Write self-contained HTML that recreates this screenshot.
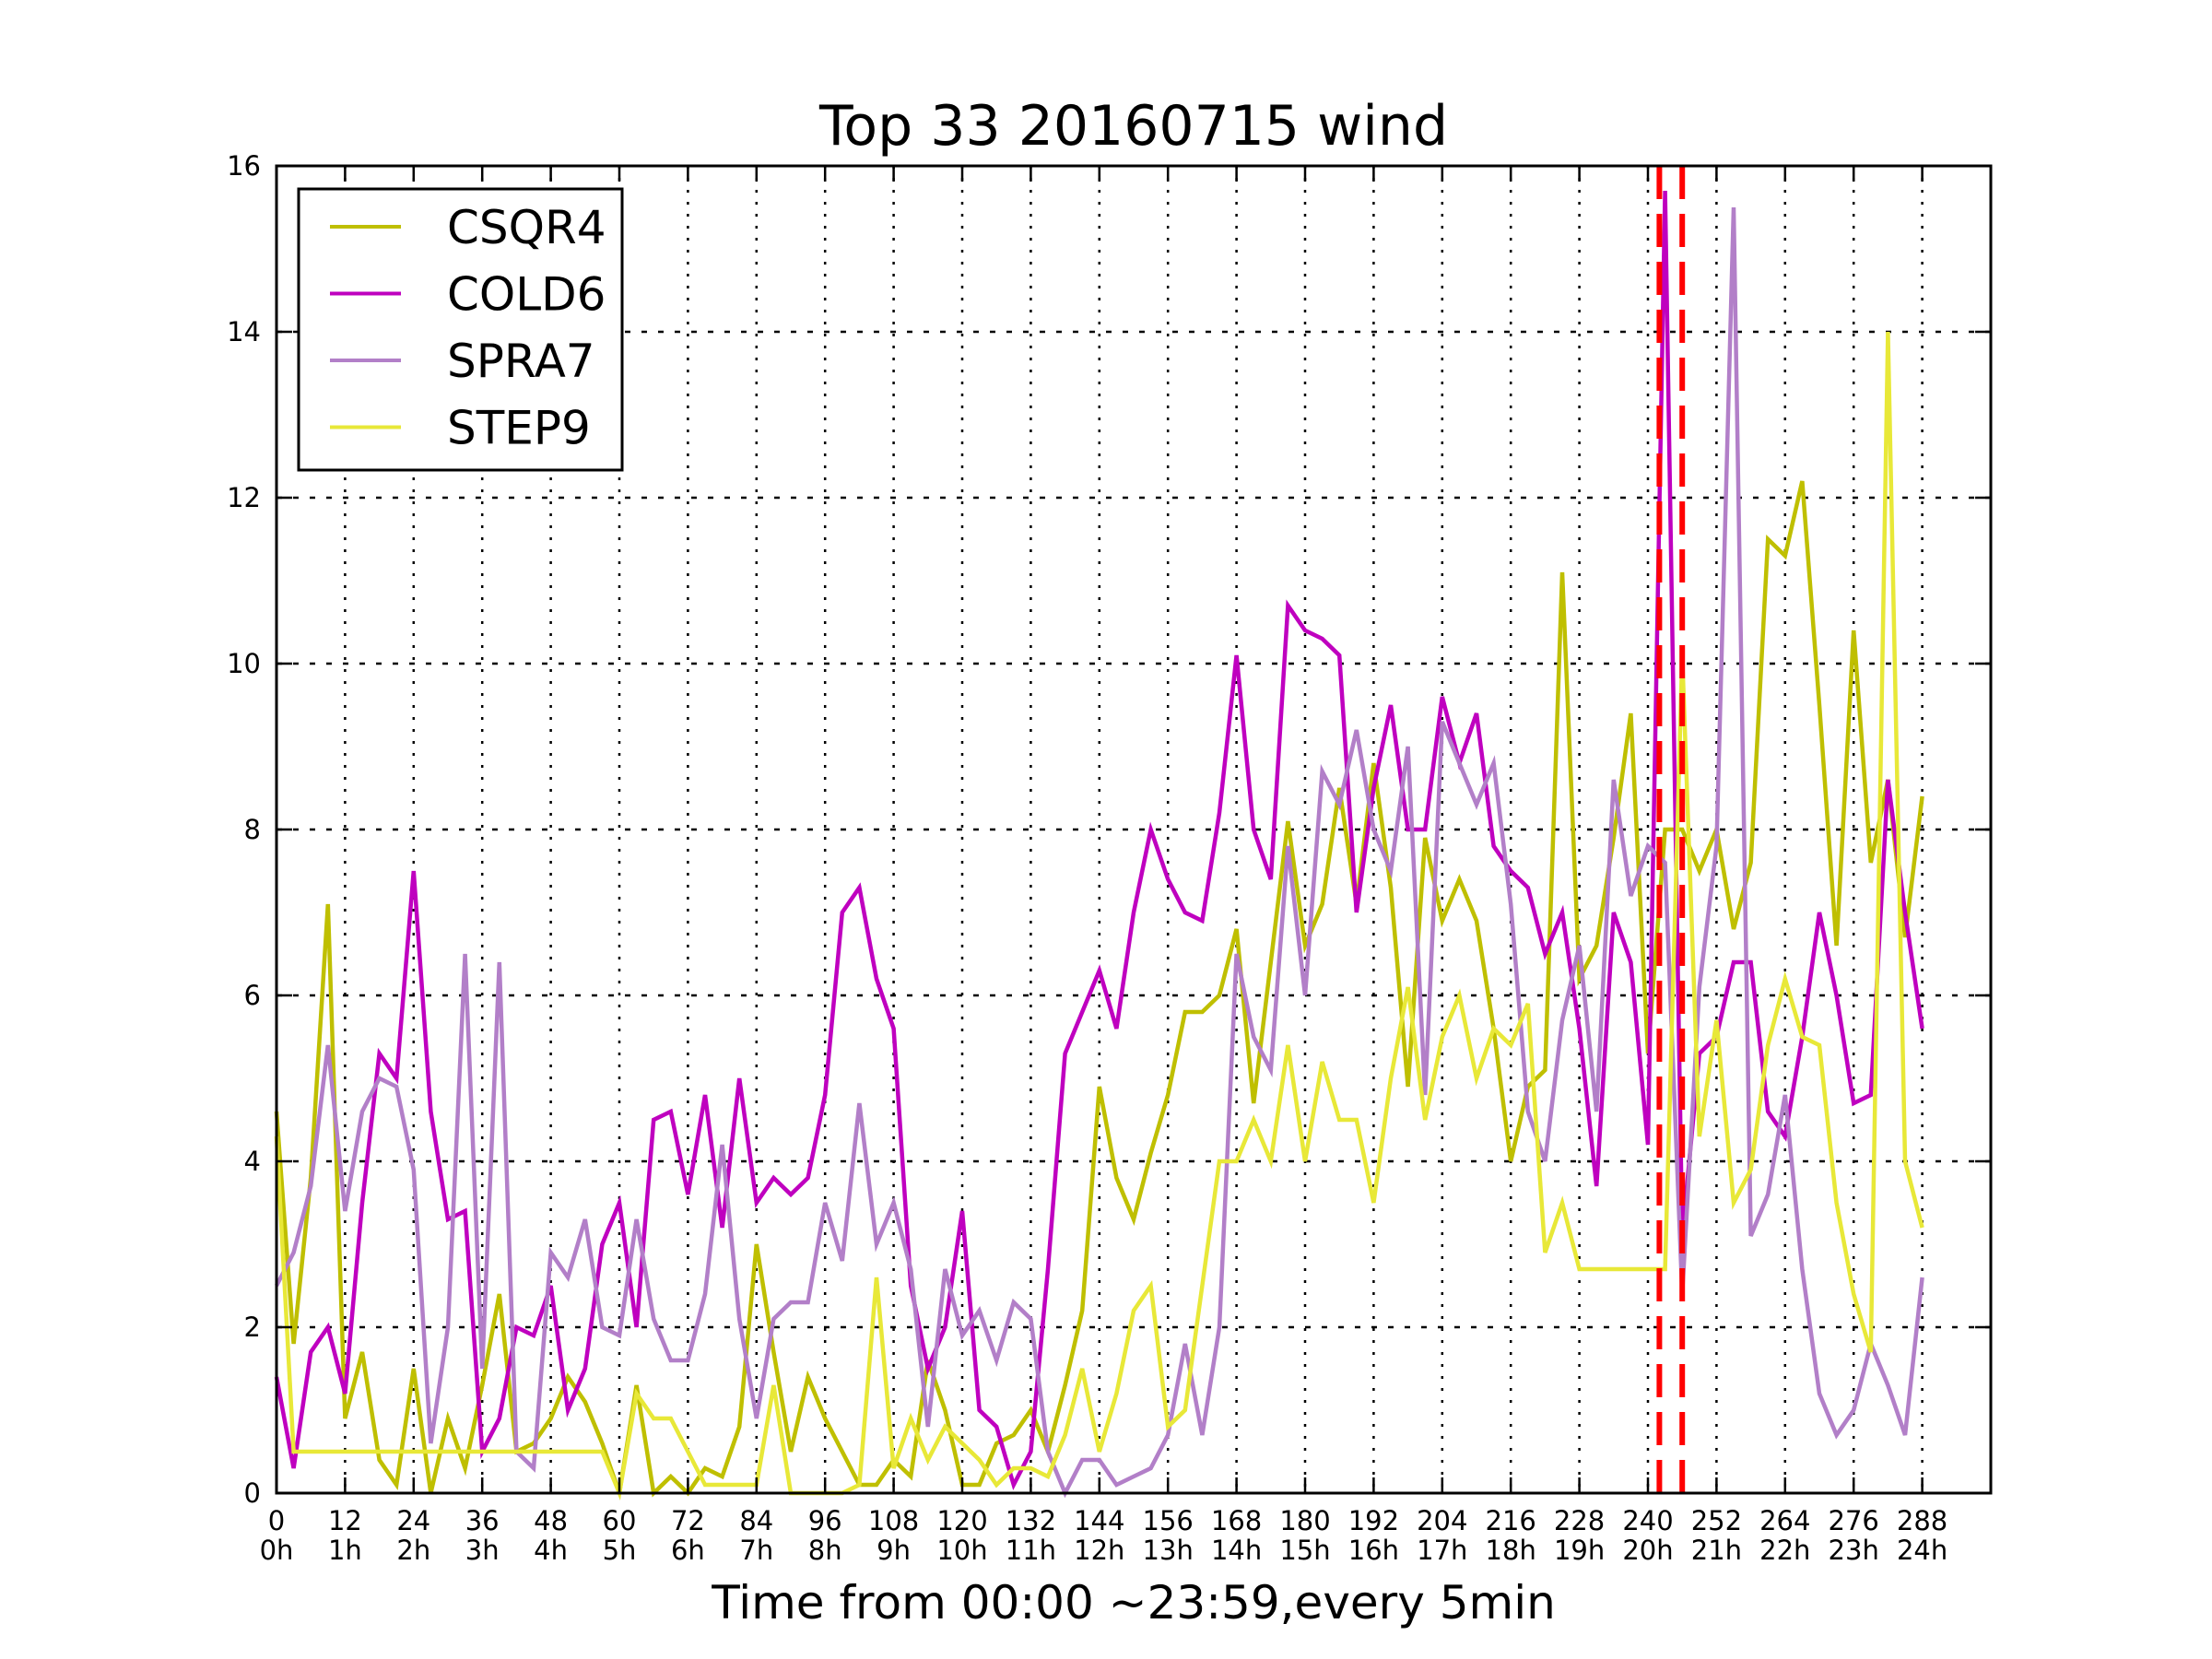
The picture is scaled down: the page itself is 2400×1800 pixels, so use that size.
<!DOCTYPE html>
<html>
<head>
<meta charset="utf-8">
<style>
html,body{margin:0;padding:0;background:#fff;}
svg{display:block;font-family:"DejaVu Sans","Liberation Sans",sans-serif;}
</style>
</head>
<body>
<svg id="chart" width="2400" height="1800" viewBox="0 0 2400 1800" xmlns="http://www.w3.org/2000/svg">
  <rect x="0" y="0" width="2400" height="1800" fill="#ffffff"/>
  <text x="1230" y="157" font-size="60" text-anchor="middle" fill="#000">Top 33 20160715 wind</text>
  <text x="1230" y="1756" font-size="50" text-anchor="middle" fill="#000">Time from 00:00 ~23:59,every 5min</text>
  <g id="grid"></g>
  <g id="series"></g>
  <g id="markers"></g>
  <rect x="300" y="180" width="1860" height="1440" fill="none" stroke="#000" stroke-width="3"/>
  <g id="ticks"></g>
  <g id="legend">
    <rect x="324" y="205" width="351" height="305" fill="#fff" stroke="#000" stroke-width="3"/>
  </g>
</svg>
<script>
// ---- chart data (sampled every 3 steps of 5 min, index 0..288) ----
const sampleStep = 3;
const seriesNames = ["CSQR4", "COLD6", "SPRA7", "STEP9"];
const csqr4 = [4.6,1.8,3.8,7.1,0.9,1.7,0.4,0.1,1.5,0,0.9,0.3,1.3,2.4,0.5,0.6,0.9,1.4,1.1,0.6,0,1.3,0,0.2,0,0.3,0.2,0.8,3.0,1.7,0.5,1.4,0.9,0.5,0.1,0.1,0.4,0.2,
  1.6,1.0,0.1,0.1,0.6,0.7,1.0,0.5,1.3,2.2,4.9,3.8,3.3,4.1,4.8,5.8,5.8,6.0,6.8,4.7,6.4,8.1,6.6,7.1,8.5,7.1,8.8,7.3,4.9,7.9,6.9,7.4,6.9,
  5.6,4.0,4.9,5.1,11.1,6.2,6.6,7.9,9.4,5.3,8.0,8.0,7.5,8.0,6.8,7.6,11.5,11.3,12.2,9.5,6.6,10.4,7.6,8.6,6.7,8.4];
const cold6 = [1.4,0.3,1.7,2.0,1.2,3.5,5.3,5.0,7.5,4.6,3.3,
  3.4,0.5,0.9,2.0,1.9,2.5,1.0,1.5,3.0,3.5,
  2.0,4.5,4.6,3.6,4.8,3.2,5.0,3.5,3.8,3.6,
  3.8,4.8,7.0,7.3,6.2,5.6,2.5,1.5,2.0,3.4,
  1.0,0.8,0.1,0.5,2.7,5.3,5.8,6.3,5.6,7.0,
  8.0,7.4,7.0,6.9,8.2,10.1,8.0,7.4,10.7,10.4,
  10.3,10.1,7.0,8.5,9.5,8.0,8.0,9.6,8.8,9.4,
  7.8,7.5,7.3,6.5,7.0,5.6,3.7,7.0,6.4,4.2,
  15.7,3.1,5.3,5.5,6.4,6.4,4.6,4.3,5.5,7.0,6.0,4.7,4.8,8.6,7.0,5.6];
const spra7 = [2.5,2.9,3.7,5.4,3.4,4.6,5.0,4.9,3.9,0.6,2.0,6.5,1.5,6.4,0.5,0.3,2.9,2.6,3.3,2.0,1.9,3.3,2.1,1.6,1.6,2.4,4.2,2.1,0.9,2.1,2.3,2.3,3.5,2.8,4.7,3.0,3.5,2.7,
  0.8,2.7,1.9,2.2,1.6,2.3,2.1,0.5,0,0.4,0.4,0.1,0.2,0.3,0.7,1.8,0.7,2.0,6.5,5.5,5.1,7.8,6.0,8.7,8.3,9.2,8.0,7.5,9.0,4.8,9.3,8.8,8.3,
  8.8,7.1,4.6,4.0,5.7,6.6,4.6,8.6,7.2,7.8,7.6,2.4,6.1,7.8,15.5,3.1,3.6,4.8,2.7,1.2,0.7,1.0,1.8,1.3,0.7,2.6];
const step9 = [4.3,0.5,0.5,0.5,0.5,0.5,0.5,0.5,0.5,0.5,0.5,0.5,0.5,0.5,0.5,0.5,0.5,0.5,0.5,0.5,
  0,1.2,0.9,0.9,0.5,0.1,0.1,0.1,0.1,1.3,0,0,0,0,0.1,2.6,0.3,0.9,
  0.4,0.8,0.6,0.4,0.1,0.3,0.3,0.2,0.7,1.5,0.5,1.2,2.2,2.5,0.8,1.0,2.5,4.0,4.0,4.5,4.0,5.4,4.0,5.2,4.5,4.5,3.5,5.0,6.1,4.5,5.5,6.0,5.0,
  5.6,5.4,5.9,2.9,3.5,2.7,2.7,2.7,2.7,2.7,2.7,10.1,4.3,5.7,3.5,3.9,5.4,6.2,5.5,5.4,3.5,2.4,1.7,14.0,4.0,3.2];
const seriesColors = ["#bfbf00", "#bf00bf", "#b27fc8", "#e8e838"];
const xTickValues = [0,12,24,36,48,60,72,84,96,108,120,132,144,156,168,180,192,204,216,228,240,252,264,276,288];
const xTickHours = ["0h","1h","2h","3h","4h","5h","6h","7h","8h","9h","10h","11h","12h","13h","14h","15h","16h","17h","18h","19h","20h","21h","22h","23h","24h"];
const yTickValues = [0,2,4,6,8,10,12,14,16];
const eventMarks = [242, 246];

// ---- axes ----
const L = 300, R = 2160, T = 180, B = 1620;
const xMax = 300, yMax = 16;
function xs(v){ return L + v / xMax * (R - L); }
function ys(v){ return B - v / yMax * (B - T); }
const NS = "http://www.w3.org/2000/svg";
function mk(tag, attrs, parent){
  const e = document.createElementNS(NS, tag);
  for (const k in attrs) e.setAttribute(k, attrs[k]);
  parent.appendChild(e);
  return e;
}
const grid = document.getElementById('grid');
const ticks = document.getElementById('ticks');
xTickValues.forEach((v, i) => {
  const gl = mk('line', {x1: xs(v), x2: xs(v), y1: T, y2: B, stroke: '#000', 'stroke-width': 2.5, 'stroke-dasharray': '3,10'}, grid);
  
  
  const t1 = mk('line', {x1: xs(v), x2: xs(v), y1: B, y2: B - 17, stroke: '#000', 'stroke-width': 2.5}, ticks);
  
  
  const t2 = mk('line', {x1: xs(v), x2: xs(v), y1: T, y2: T + 17, stroke: '#000', 'stroke-width': 2.5}, ticks);
  
  
  const lb = mk('text', {x: xs(v), y: 1660, 'font-size': 29, 'text-anchor': 'middle'}, ticks);
  lb.textContent = String(v);
  
  
  const lh = mk('text', {x: xs(v), y: 1692, 'font-size': 29, 'text-anchor': 'middle'}, ticks);
  lh.textContent = xTickHours[i];
  
  
});
yTickValues.forEach(v => {
  if (v > 0 && v < yMax) {
    const gl = mk('line', {x1: L, x2: R, y1: ys(v), y2: ys(v), stroke: '#000', 'stroke-width': 2.5, 'stroke-dasharray': '6,12'}, grid);
    
    
  }
  const t1 = mk('line', {x1: L, x2: L + 17, y1: ys(v), y2: ys(v), stroke: '#000', 'stroke-width': 2.5}, ticks);
  
  
  const t2 = mk('line', {x1: R, x2: R - 17, y1: ys(v), y2: ys(v), stroke: '#000', 'stroke-width': 2.5}, ticks);
  
  
  const lb = mk('text', {x: 283, y: ys(v) + 10, 'font-size': 29, 'text-anchor': 'end'}, ticks);
  lb.textContent = String(v);
  
  
});

// ---- series ----
const seriesG = document.getElementById('series');
[csqr4, cold6, spra7, step9].forEach((arr, si) => {
  const pts = arr.map((v, i) => xs(i * sampleStep).toFixed(1) + ',' + ys(v).toFixed(1)).join(' ');
  const pl = mk('polyline', {points: pts, fill: 'none', stroke: seriesColors[si], 'stroke-width': 4.5, 'stroke-linejoin': 'miter'}, seriesG);
  
  
});

// ---- event markers ----
const markersG = document.getElementById('markers');
eventMarks.forEach(v => {
  const ln = mk('line', {x1: xs(v), x2: xs(v), y1: T, y2: B, stroke: '#ff0000', 'stroke-width': 6, 'stroke-dasharray': '36,16'}, markersG);
  
  
});

// ---- legend ----
const legendG = document.getElementById('legend');
seriesNames.forEach((n, i) => {
  const y = 246 + i * 72.5;
  const ln = mk('line', {x1: 358, x2: 435, y1: y, y2: y, stroke: seriesColors[i], 'stroke-width': 4}, legendG);
  
  
  const tx = mk('text', {x: 485, y: y + 18, 'font-size': 50}, legendG);
  tx.textContent = n;
  
  
});
</script>
</body>
</html>
